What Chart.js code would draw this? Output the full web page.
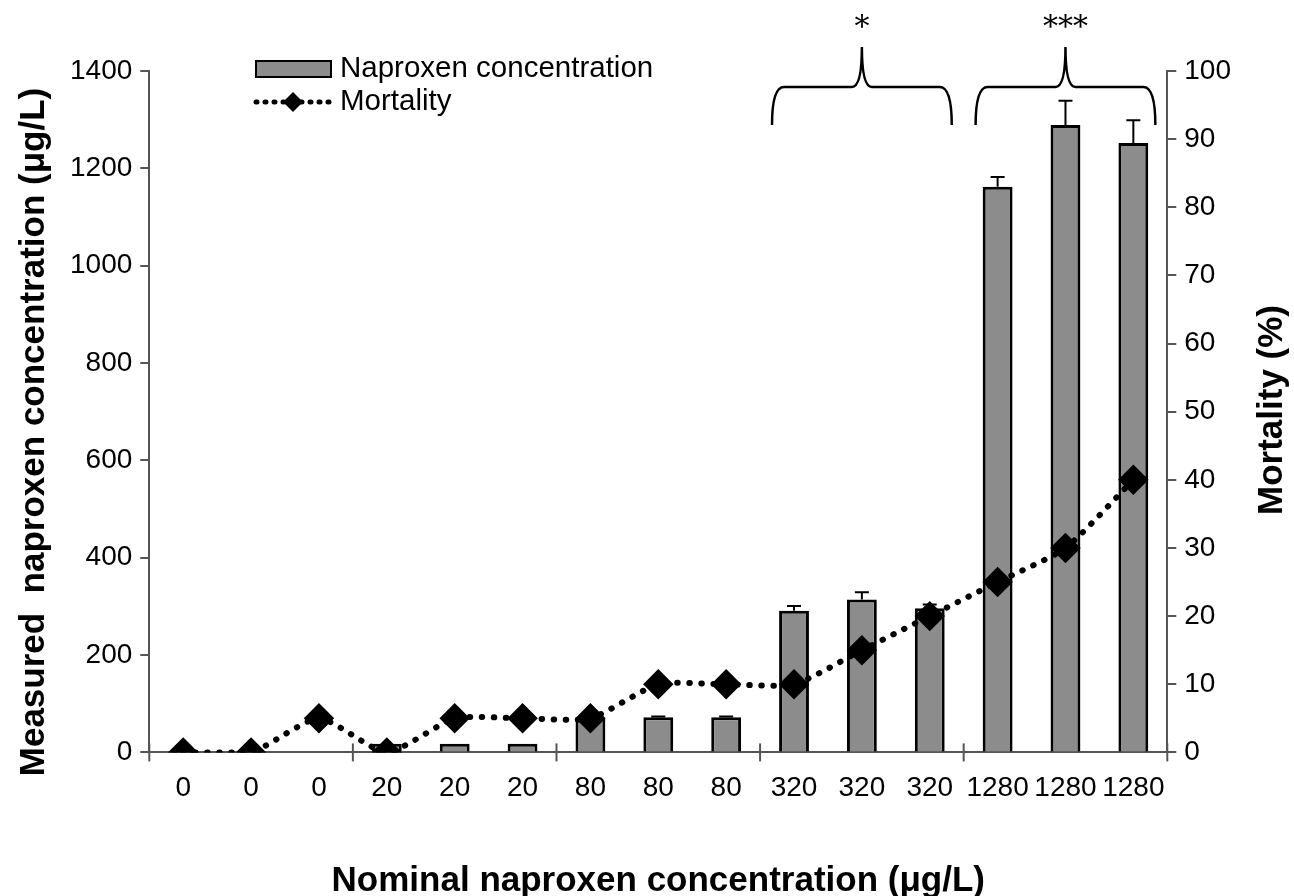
<!DOCTYPE html>
<html lang="en">
<head>
    <meta charset="UTF-8">
    <title>Naproxen</title>
    <script src="https://cdn.jsdelivr.net/npm/chart.js"></script>
    <style>
        html, body { margin: 0; padding: 0; background: #fff; }
        #wrap { width: 1294px; height: 896px; }
    </style>
</head>
<body>
    <div id="wrap"><canvas id="myChart" width="1294" height="896"></canvas></div>
    <script>
        // data
        var labels = ['0','0','0','20','20','20','80','80','80','320','320','320','1280','1280','1280'];
        var measured = [0, 0, 0, 18, 18, 18, 70, 72, 72, 291, 314, 296, 1162, 1289, 1252];
        var measuredErr = [0, 0, 0, 0, 0, 0, 2, 2, 2, 10, 15, 8, 20, 50, 47];
        var mortality = [0, 0, 5, 0, 5, 5, 5, 10, 10, 10, 15, 20, 25, 30, 40];
        var groups = [[9, 11, '*'], [12, 14, '***']];

        var FONT = '"Liberation Sans", Arial, sans-serif';

        function vTitle(ctx, text, cx, cy) {
            ctx.save();
            ctx.translate(cx, cy);
            ctx.rotate(-Math.PI / 2);
            ctx.font = 'bold 35px ' + FONT;
            ctx.fillStyle = '#000';
            ctx.textAlign = 'center';
            ctx.textBaseline = 'middle';
            ctx.fillText(text, 0, 0);
            ctx.restore();
        }

        // error bars, group separators, braces, axis titles, legend
        var extras = {
            id: 'extras',
            afterDatasetsDraw: function(chart) {
                var ctx = chart.ctx;
                var y = chart.scales.y;
                var meta = chart.getDatasetMeta(1);
                ctx.save();
                ctx.strokeStyle = '#000';
                ctx.lineWidth = 2;
                for (var i = 0; i < measured.length; i++) {
                    if (!measuredErr[i]) continue;
                    var px = meta.data[i].x;
                    var top = y.getPixelForValue(measured[i]);
                    var end = y.getPixelForValue(measured[i] + measuredErr[i]);
                    ctx.beginPath();
                    ctx.moveTo(px, top); ctx.lineTo(px, end);
                    ctx.moveTo(px - 7, end); ctx.lineTo(px + 7, end);
                    ctx.stroke();
                }
                ctx.restore();
            },
            afterDraw: function(chart) {
                var ctx = chart.ctx;
                var x = chart.scales.x;
                var area = chart.chartArea;
                var step = x.getPixelForValue(1) - x.getPixelForValue(0);
                ctx.save();

                // group separator ticks on x axis
                ctx.strokeStyle = '#555';
                ctx.lineWidth = 2;
                for (var g = 0; g <= 15; g += 3) {
                    var sx = x.getPixelForValue(0) - step / 2 + g * step;
                    ctx.beginPath();
                    ctx.moveTo(sx, area.bottom - 9);
                    ctx.lineTo(sx, area.bottom + 9);
                    ctx.stroke();
                }

                // curly braces
                ctx.strokeStyle = '#000';
                ctx.lineWidth = 2.5;
                groups.forEach(function(gr) {
                    var l = x.getPixelForValue(gr[0]) - 22;
                    var r = x.getPixelForValue(gr[1]) + 22;
                    var c = (l + r) / 2;
                    var yb = 125, yh = 87, yp = 47;
                    ctx.beginPath();
                    ctx.moveTo(l, yb);
                    ctx.quadraticCurveTo(l, yh, l + 12, yh);
                    ctx.lineTo(c - 10, yh);
                    ctx.quadraticCurveTo(c, yh, c, yp);
                    ctx.quadraticCurveTo(c, yh, c + 10, yh);
                    ctx.lineTo(r - 12, yh);
                    ctx.quadraticCurveTo(r, yh, r, yb);
                    ctx.stroke();
                    ctx.fillStyle = '#000';
                    ctx.font = '30px "DejaVu Serif", serif';
                    ctx.textAlign = 'center';
                    ctx.textBaseline = 'middle';
                    ctx.fillText(gr[2], c, 28);
                });

                // axis titles, both reading upwards
                vTitle(ctx, 'Measured  naproxen concentration (μg/L)', 34, 432);
                vTitle(ctx, 'Mortality (%)', 1272, 410);

                // legend
                ctx.font = '29.5px ' + FONT;
                ctx.textAlign = 'left';
                ctx.textBaseline = 'middle';
                ctx.fillStyle = '#8c8c8c';
                ctx.fillRect(256, 61, 75, 16);
                ctx.strokeStyle = '#000';
                ctx.lineWidth = 2;
                ctx.strokeRect(256, 61, 75, 16);
                ctx.fillStyle = '#000';
                ctx.fillText('Naproxen concentration', 340, 69);
                ctx.lineWidth = 5;
                ctx.lineCap = 'round';
                ctx.setLineDash([1, 8]);
                ctx.beginPath();
                ctx.moveTo(256, 102); ctx.lineTo(331, 102);
                ctx.stroke();
                ctx.setLineDash([]);
                ctx.beginPath();
                ctx.moveTo(293, 92); ctx.lineTo(303, 102); ctx.lineTo(293, 112); ctx.lineTo(283, 102);
                ctx.closePath();
                ctx.fill();
                ctx.fillText('Mortality', 340, 102);
                ctx.restore();
            }
        };

        var ctx = document.querySelector('#myChart');
        var myChart = new Chart(ctx, {
            data: {
                labels: labels,
                datasets: [{
                    type: 'line',
                    label: 'Mortality',
                    data: mortality,
                    yAxisID: 'y1',
                    borderColor: '#000',
                    borderWidth: 6,
                    borderDash: [0.5, 11.5],
                    borderCapStyle: 'round',
                    pointStyle: 'rectRot',
                    pointRadius: 11,
                    pointBackgroundColor: '#000',
                    pointBorderColor: '#000',
                    tension: 0.2,
                    order: 0
                }, {
                    type: 'bar',
                    label: 'Naproxen concentration',
                    data: measured,
                    yAxisID: 'y',
                    backgroundColor: '#8c8c8c',
                    borderColor: '#000',
                    borderWidth: 3,
                    barPercentage: 0.44,
                    categoryPercentage: 1,
                    order: 1
                }]
            },
            options: {
                responsive: false,
                animation: false,
                layout: { padding: { top: 71, left: 62, right: 55, bottom: -3 } },
                plugins: { legend: { display: false }, tooltip: { enabled: false } },
                scales: {
                    x: {
                        offset: true,
                        grid: { display: false },
                        border: { color: '#555', width: 2 },
                        ticks: { color: '#000', font: { family: FONT, size: 28 }, padding: 11, maxRotation: 0, autoSkip: false },
                        title: { display: true, text: 'Nominal naproxen concentration (μg/L)', color: '#000',
                                 font: { family: FONT, size: 35, weight: 'bold', lineHeight: 1 }, padding: { top: 48, bottom: 0 } }
                    },
                    y: {
                        position: 'left',
                        min: 0, max: 1400,
                        ticks: { stepSize: 200, color: '#000', font: { family: FONT, size: 28 }, padding: 8,
                                 callback: function(v) { return v; } },
                        grid: { drawOnChartArea: false, tickLength: 9, color: '#555', lineWidth: 2 },
                        border: { color: '#555', width: 2 }
                    },
                    y1: {
                        position: 'right',
                        min: 0, max: 100,
                        ticks: { stepSize: 10, color: '#000', font: { family: FONT, size: 28 }, padding: 8 },
                        grid: { drawOnChartArea: false, tickLength: 9, color: '#555', lineWidth: 2 },
                        border: { color: '#555', width: 2 }
                    }
                }
            },
            plugins: [extras]
        });
    </script>
</body>
</html>
